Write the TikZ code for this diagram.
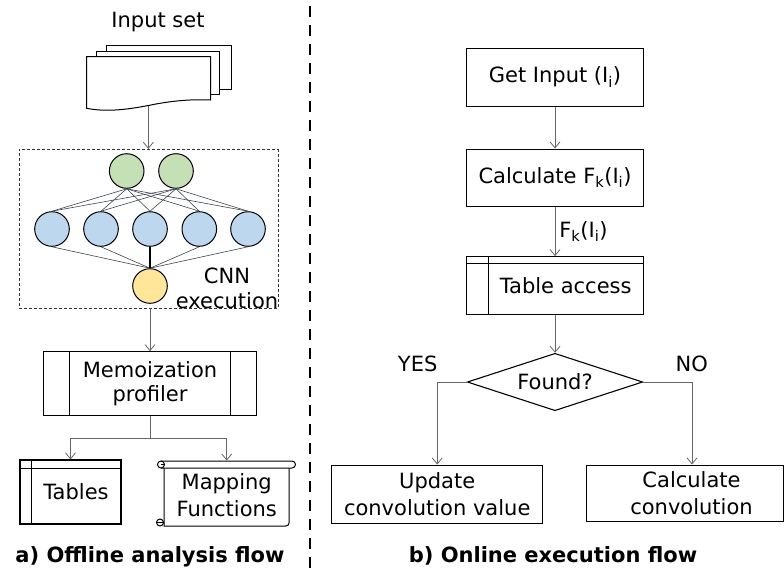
\documentclass[tikz,border=0pt]{standalone}
\usepackage{fontspec}
\setmainfont{DejaVu Sans}
\usetikzlibrary{arrows.meta,shapes.geometric}
\definecolor{ngreen}{RGB}{197,224,180}
\definecolor{nblue}{RGB}{189,215,238}
\definecolor{nyellow}{RGB}{255,230,153}
\definecolor{edgec}{RGB}{60,70,82}
\begin{document}
\begin{tikzpicture}[x=1pt,y=-1pt,
  every node/.style={font=\fontsize{21}{25}\selectfont},
  box/.style={draw=black,line width=1.1pt,fill=white,inner sep=0pt,align=center},
  arr/.style={draw=black!60,line width=0.8pt,-{Straight Barb[length=6pt,width=10pt]}},
  plain/.style={draw=black!60,line width=0.8pt},
  neuron/.style={circle,draw=black,line width=1pt,minimum size=34.6pt,inner sep=0pt},
  nl/.style={draw=edgec,line width=0.6pt},
  lbl/.style={inner sep=0pt},
  capt/.style={font=\fontsize{21}{25}\selectfont\bfseries,inner sep=0pt,anchor=base}]
\useasboundingbox (0,0) rectangle (784,574);

% divider
\coordinate (dtop) at (310,6);
\coordinate (dbot) at (310,574);
\draw[line width=2.5pt,dash pattern=on 11pt off 8pt] (dtop) -- (dbot);

% ---------- left: offline flow ----------
\node[lbl] (inset) at (158,22) {Input set};
\draw[line width=1pt,fill=white] (106,45.7) rectangle (231,89);
\draw[line width=1pt,fill=white] (96,51.7) rectangle (219.3,94);
\draw[line width=1pt,fill=white] (86.7,56.7) -- (210.7,56.7) -- (210.7,100)
  .. controls (190,99) and (170,101) .. (148.3,105.5)
  .. controls (125,110) and (105,112) .. (86.7,108.3) -- cycle;
\coordinate (docb) at (148.3,105.5);

\node[draw=black!80,line width=0.8pt,dash pattern=on 3pt off 2pt,minimum width=258.7pt,minimum height=158.7pt,inner sep=0pt] (cnnbox) at (148.65,228.65) {};
\draw[arr] (docb) -- (docb |- cnnbox.north);

\node[neuron,fill=ngreen] (g1) at (126.7,171) {};
\node[neuron,fill=ngreen] (g2) at (176,171) {};
\node[neuron,fill=nblue] (b1) at (52,229) {};
\node[neuron,fill=nblue] (b2) at (101,229) {};
\node[neuron,fill=nblue] (b3) at (150,229) {};
\node[neuron,fill=nblue] (b4) at (199.3,229) {};
\node[neuron,fill=nblue] (b5) at (248,229) {};
\node[neuron,fill=nyellow] (yy) at (150,286) {};
\foreach \g in {g1,g2}{\foreach \b in {b1,b2,b3,b4,b5}{\draw[nl] (\g.south) -- (\b.north);}}
\foreach \b in {b1,b2,b4,b5}{\draw[nl] (\b.south) -- (yy.north);}
\draw[line width=1.1pt] (b3.south) -- (yy.north);
\node[lbl,align=center] (cnnlbl) at (227,288) {CNN\\execution};

\node[box,minimum width=213.4pt,minimum height=64pt,font=\fontsize{21}{24.7}\selectfont] (memo) at (150,383.7) {Memoization\\profiler};
\draw[line width=1.1pt] ([xshift=26.7pt]memo.north west) -- ([xshift=26.7pt]memo.south west);
\draw[line width=1.1pt] ([xshift=-26.7pt]memo.north east) -- ([xshift=-26.7pt]memo.south east);
\draw[arr] (cnnbox.south -| memo.north) -- (memo.north);

\node[box,minimum width=101pt,minimum height=64pt] (tables) at (70.5,492) {\hspace*{11pt}Tables};
\draw[line width=1.1pt] ([yshift=-9pt]tables.north west) -- ([yshift=-9pt]tables.north east);
\draw[line width=1.1pt] ([xshift=12pt]tables.north west) -- ([xshift=12pt]tables.south west);

% scroll shape
\draw[line width=1pt,fill=white] (164,468) -- (164,526) -- (286,526) arc[start angle=270,end angle=360,radius=3pt] -- (289,468);
\draw[line width=1pt,fill=white] (161,461) -- (292,461) arc[start angle=90,end angle=-90,radius=3.5pt] -- (161,468);
\draw[line width=1pt,fill=white] (161,464.5) circle[radius=3.5pt];
\draw[line width=0.8pt] (161,464.5) -- (164.5,464.5);
\draw[line width=1pt,fill=white] (160,522.5) circle[radius=3.5pt];
\draw[line width=0.8pt] (157,522.5) -- (163.5,522.5);
\node[lbl,align=center,font=\fontsize{21}{26.5}\selectfont] (mapf) at (226.7,495) {Mapping\\Functions};
\coordinate (mapin) at (226.7,460.5);

\coordinate (split) at (150,438);
\draw[plain] (memo.south) -- (split);
\draw[arr] (split) -| (tables.north);
\draw[arr] (split) -| (mapin);

\node[capt] (capa) at (150,562.5) {a) Offline analysis flow};

% ---------- right: online flow ----------
\node[box,minimum width=176.6pt,minimum height=57.7pt] (getin) at (555,77.2) {Get Input (I\textsubscript{i})};
\node[box,minimum width=176.6pt,minimum height=57.7pt] (calc) at (555,177.9) {Calculate F\textsubscript{k}(I\textsubscript{i})};
\node[box,minimum width=176.6pt,minimum height=57.6pt] (tacc) at (555,285.5) {\hspace*{21.4pt}Table access};
\draw[line width=1.1pt] ([yshift=-7.5pt]tacc.north west) -- ([yshift=-7.5pt]tacc.north east);
\draw[line width=1.1pt] ([xshift=22.3pt]tacc.north west) -- ([xshift=22.3pt]tacc.south west);
\node[draw,line width=1.1pt,diamond,aspect=3,minimum width=175.4pt,minimum height=57.4pt,inner sep=0pt] (found) at (555,382) {Found?};
\node[box,minimum width=211pt,minimum height=58.3pt,font=\fontsize{21}{26.5}\selectfont] (upd) at (437.2,494.2) {Update\\convolution value};
\node[box,minimum width=196.6pt,minimum height=56.7pt,font=\fontsize{21}{26.5}\selectfont] (cconv) at (685,493.4) {\hspace*{13pt}Calculate\\\hspace*{13pt}convolution};

\draw[arr] (getin) -- (calc);
\draw[arr] (calc) -- node[lbl,anchor=west,xshift=4pt] {F\textsubscript{k}(I\textsubscript{i})} (tacc);
\draw[arr] (tacc) -- (found);
\draw[arr] (found.west) -| (upd.north);
\draw[arr] (found.east) -| ([xshift=7pt]cconv.north);
\node[lbl] (yes) at (417.7,364.3) {YES};
\node[lbl] (no) at (691.7,364) {NO};

\node[capt] (capb) at (553,562.5) {b) Online execution flow};
\end{tikzpicture}
\end{document}
